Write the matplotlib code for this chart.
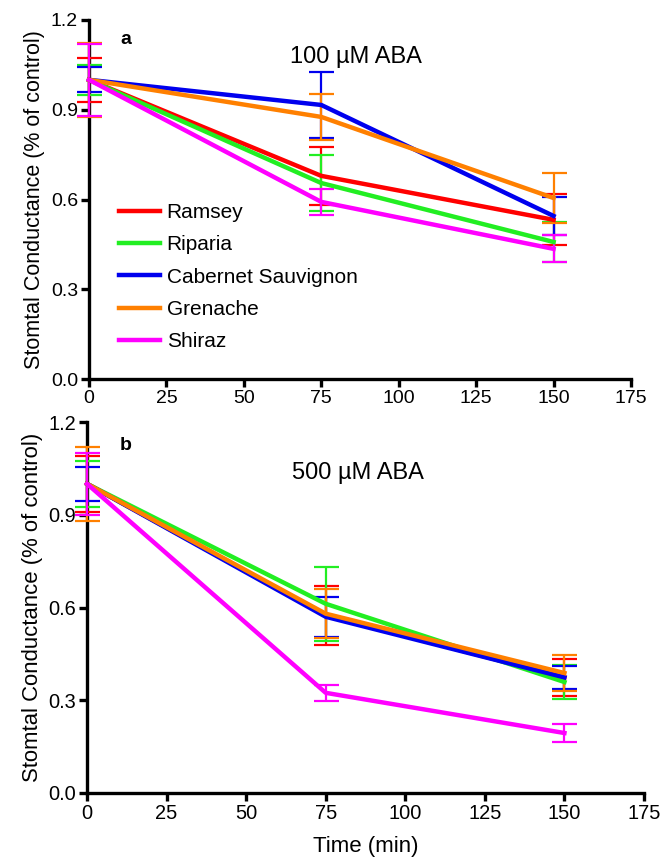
import matplotlib
matplotlib.use('Agg')
import matplotlib.pyplot as plt

plt.rcParams['font.family'] = ['Liberation Sans', 'DejaVu Sans']

# data
times = [0, 75, 150]
cultivars = ['Ramsey', 'Riparia', 'Cabernet Sauvignon', 'Grenache', 'Shiraz']
colors = ['#ff0000', '#22ee22', '#0000ee', '#ff8000', '#ff00ff']

# 100 uM ABA (panel a)
ramsey_a = [1.0, 0.679, 0.532]
ramsey_a_err = [0.074, 0.097, 0.085]
riparia_a = [1.0, 0.655, 0.458]
riparia_a_err = [0.05, 0.094, 0.068]
cabernet_a = [1.0, 0.916, 0.545]
cabernet_a_err = [0.042, 0.11, 0.065]
grenache_a = [1.0, 0.876, 0.605]
grenache_a_err = [0.124, 0.078, 0.082]
shiraz_a = [1.0, 0.592, 0.435]
shiraz_a_err = [0.12, 0.043, 0.045]

# 500 uM ABA (panel b)
ramsey_b = [1.0, 0.575, 0.374]
ramsey_b_err = [0.09, 0.095, 0.06]
riparia_b = [1.0, 0.612, 0.359]
riparia_b_err = [0.075, 0.12, 0.055]
cabernet_b = [1.0, 0.57, 0.374]
cabernet_b_err = [0.055, 0.065, 0.037]
grenache_b = [1.0, 0.58, 0.388]
grenache_b_err = [0.12, 0.08, 0.058]
shiraz_b = [1.0, 0.324, 0.194]
shiraz_b_err = [0.10, 0.025, 0.028]

panel_a = [(ramsey_a, ramsey_a_err), (riparia_a, riparia_a_err),
           (cabernet_a, cabernet_a_err), (grenache_a, grenache_a_err),
           (shiraz_a, shiraz_a_err)]
panel_b = [(ramsey_b, ramsey_b_err), (riparia_b, riparia_b_err),
           (cabernet_b, cabernet_b_err), (grenache_b, grenache_b_err),
           (shiraz_b, shiraz_b_err)]

fig = plt.figure(figsize=(6.61, 8.6), dpi=100)
ax1 = fig.add_axes([89 / 661, (860 - 379) / 860, 542 / 661, 359 / 860])
ax2 = fig.add_axes([87 / 661, (860 - 793) / 860, 557 / 661, 371 / 860])


def draw_panel(ax, series, letter, title, letter_xy, title_xy, scale=1.0):
    for (vals, errs), name, c in zip(series, cultivars, colors):
        eb = ax.errorbar(times, vals, yerr=errs, color=c, lw=3.2,
                         elinewidth=1.6, capsize=9, capthick=1.6,
                         label=name, zorder=3)
        for art in eb.get_children():
            art.set_clip_on(False)
    ax.set_xlim(0, 175)
    ax.set_ylim(0, 1.2)
    ax.set_xticks(range(0, 176, 25))
    ax.set_yticks([0.0, 0.3, 0.6, 0.9, 1.2])
    ax.set_yticklabels(['0.0', '0.3', '0.6', '0.9', '1.2'])
    for s in ['top', 'right']:
        ax.spines[s].set_visible(False)
    for s in ['left', 'bottom']:
        ax.spines[s].set_linewidth(2.4)
    ax.tick_params(direction='out', length=6, width=2.4,
                   labelsize=14 * scale, pad=2)
    ax.set_ylabel('Stomtal Conductance (% of control)',
                  fontsize=15.5 * scale, labelpad=4)
    ax.text(*letter_xy, letter, transform=ax.transAxes, fontsize=14,
            fontweight='bold', va='center', ha='left')
    ax.text(*title_xy, title, transform=ax.transAxes, fontsize=17,
            va='center', ha='left')


draw_panel(ax1, panel_a, 'a', '100 µM ABA',
           ((120 - 89) / 542, (379 - 39) / 359), ((290 - 89) / 542, (379 - 57) / 359))
draw_panel(ax2, panel_b, 'b', '500 µM ABA',
           ((120 - 87) / 557, (793 - 445) / 371), ((292 - 87) / 557, (793 - 473) / 371),
           scale=1.03)

ax2.set_xlabel('Time (min)', fontsize=16, labelpad=9)

handles, labels = ax1.get_legend_handles_labels()
handles = [h[0] for h in handles]
ax1.legend(handles, labels, loc='upper left', bbox_to_anchor=(0.055, 0.49),
           frameon=False, fontsize=15, handlelength=2.0, handletextpad=0.3,
           labelspacing=0.64, borderpad=0, borderaxespad=0)

plt.savefig('out.png', dpi=100)
